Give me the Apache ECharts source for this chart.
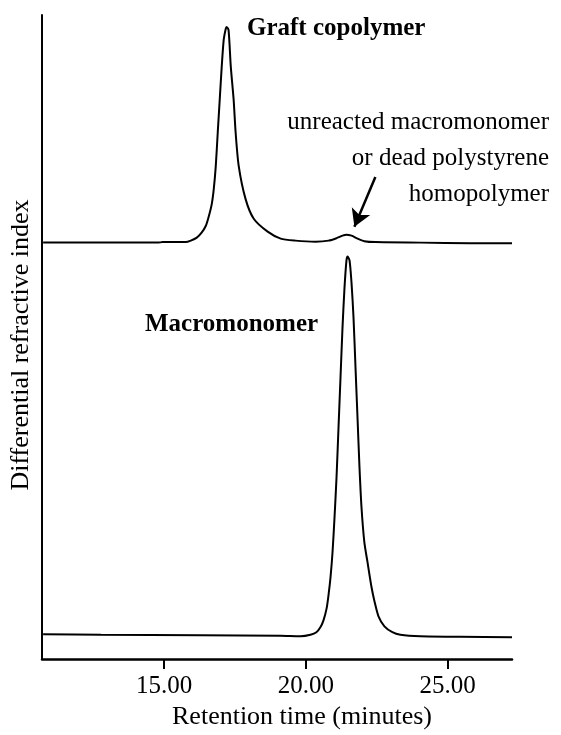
<!DOCTYPE html>
<html>
<head>
<meta charset="utf-8">
<script src="https://cdn.jsdelivr.net/npm/echarts@6/dist/echarts.min.js"></script>
<style>
  html, body { margin: 0; padding: 0; background: #fff; }
  #chart { width: 561px; height: 735px; }
</style>
</head>
<body>
<div id="chart"></div>
<script>
// GPC traces: retention time (min) and detector response (arbitrary units)
const graftTime = [10.73, 12.77, 14.77, 14.95, 15.76, 15.94, 16.15, 16.32, 16.47, 16.57, 16.68, 16.75, 16.82, 16.89, 16.96, 17.03, 17.10, 17.17, 17.20, 17.27, 17.35, 17.45, 17.52, 17.63, 17.87, 18.16, 18.65, 19.11, 19.63, 20.34, 20.80, 21.08, 21.29, 21.43, 21.61, 21.82, 22.06, 22.45, 24.04, 25.80, 27.27];
const graftSignal = [64.66, 64.66, 64.66, 64.74, 64.74, 64.97, 65.43, 66.20, 67.28, 68.67, 70.68, 72.99, 76.54, 81.79, 86.88, 91.98, 96.14, 97.84, 98.15, 97.69, 91.98, 86.88, 81.79, 76.54, 71.45, 68.36, 66.36, 65.28, 64.97, 64.81, 64.97, 65.35, 65.74, 65.90, 65.74, 65.28, 64.89, 64.74, 64.66, 64.58, 64.58];

const macroTime = [10.73, 12.77, 16.29, 19.11, 19.81, 20.16, 20.37, 20.51, 20.62, 20.73, 20.80, 20.87, 20.94, 21.01, 21.08, 21.15, 21.22, 21.29, 21.36, 21.43, 21.47, 21.54, 21.61, 21.68, 21.75, 21.82, 21.89, 21.96, 22.06, 22.17, 22.31, 22.42, 22.56, 22.77, 23.05, 23.33, 24.04, 25.44, 27.27];
const macroSignal = [3.86, 3.78, 3.70, 3.63, 3.55, 3.78, 4.17, 4.94, 6.02, 7.87, 10.03, 12.81, 16.67, 22.07, 28.24, 35.96, 43.67, 51.39, 57.56, 61.88, 62.50, 61.88, 58.33, 52.93, 45.22, 37.50, 29.78, 23.61, 18.21, 15.12, 11.27, 8.95, 6.64, 5.09, 4.17, 3.78, 3.55, 3.47, 3.40];

const xTicks = [15, 20, 25];
const timeRange = [10.69, 27.27];
const signalRange = [0, 100];

// arrow pointing at the small shoulder of the graft trace
const arrowFrom = [22.45, 74.85];
const arrowTo = [21.71, 67.13];

const noteLines = ['unreacted macromonomer', 'or dead polystyrene', 'homopolymer'];

const serif = "'Liberation Serif', 'Times New Roman', serif";

const zip = (xs, ys) => xs.map((x, i) => [x, ys[i]]);

const chart = echarts.init(document.getElementById('chart'), null, { renderer: 'canvas' });

const noteGraphics = noteLines.map((line, i) => ({
  type: 'text',
  right: 12,
  top: 110 + i * 36,
  style: { text: line, font: '25px ' + serif, fill: '#000' }
}));

chart.setOption({
  animation: false,
  backgroundColor: '#fff',
  grid: { left: 41, right: 49, top: 15, bottom: 72 },
  xAxis: {
    type: 'value',
    min: timeRange[0],
    max: timeRange[1],
    name: 'Retention time (minutes)',
    nameLocation: 'middle',
    nameGap: 41,
    nameTextStyle: { fontFamily: serif, fontSize: 26, color: '#000', padding: [0, 0, 0, 50] },
    axisLine: { show: true, onZero: false, lineStyle: { color: '#000', width: 2.5 } },
    axisTick: { show: true, customValues: xTicks, length: 10, lineStyle: { color: '#000', width: 2 } },
    axisLabel: {
      show: true,
      customValues: xTicks,
      margin: 15,
      fontFamily: serif,
      fontSize: 25,
      color: '#000',
      formatter: v => v.toFixed(2)
    },
    splitLine: { show: false }
  },
  yAxis: {
    type: 'value',
    min: signalRange[0],
    max: signalRange[1],
    name: 'Differential refractive index',
    nameLocation: 'middle',
    nameRotate: 90,
    nameGap: 8,
    nameTextStyle: { fontFamily: serif, fontSize: 26, color: '#000', padding: [0, 16, 0, 0] },
    axisLine: { show: true, lineStyle: { color: '#000', width: 2 } },
    axisTick: { show: false },
    axisLabel: { show: false },
    splitLine: { show: false }
  },
  series: [
    {
      name: 'Graft copolymer',
      type: 'line',
      data: zip(graftTime, graftSignal),
      showSymbol: false,
      smooth: 0.25,
      lineStyle: { color: '#000', width: 2 },
      markLine: {
        silent: true,
        symbol: ['none', 'arrow'],
        symbolSize: [15, 17],
        label: { show: false },
        lineStyle: { color: '#000', width: 2.5, type: 'solid' },
        data: [[{ coord: arrowFrom }, { coord: arrowTo }]]
      }
    },
    {
      name: 'Macromonomer',
      type: 'line',
      data: zip(macroTime, macroSignal),
      showSymbol: false,
      smooth: 0.25,
      lineStyle: { color: '#000', width: 2 }
    }
  ],
  graphic: [
    {
      type: 'text', left: 247, top: 16,
      style: { text: 'Graft copolymer', font: 'bold 25px ' + serif, fill: '#000' }
    },
    {
      type: 'text', left: 145, top: 312,
      style: { text: 'Macromonomer', font: 'bold 25px ' + serif, fill: '#000' }
    }
  ].concat(noteGraphics)
});
</script>
</body>
</html>
